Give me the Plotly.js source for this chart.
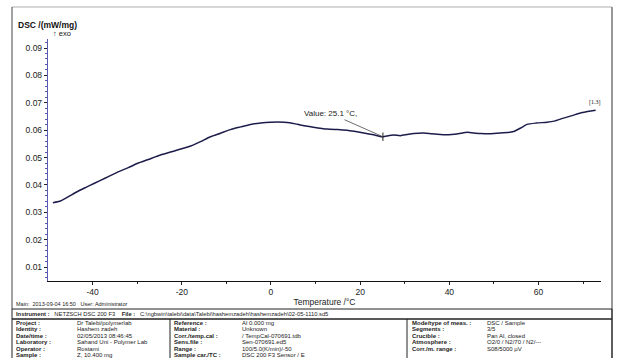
<!DOCTYPE html>
<html><head><meta charset="utf-8">
<script src="https://cdn.plot.ly/plotly-3.0.1.min.js"></script>
<style>html,body{margin:0;padding:0;background:#fff;}#chart{width:617px;height:358px;}</style>
</head><body><div id="chart"></div>
<script>
// Temperature (°C) and DSC signal (mW/mg)
const temperature = [-48.9,-47.2,-45.5,-43.5,-41.5,-39.7,-37,-34.5,-32,-30,-27.5,-24.8,-21.5,-18,-15.8,-13.6,-11.3,-9.1,-6.8,-4.6,-2.3,-0.1,1.5,2.9,4.2,5.5,6.6,9.5,12.6,15,17.1,19,20.8,23,24.9,26,27.5,29,30.5,32,34.3,36,37.3,39.5,42,44,46,47,49,51.5,53,54.4,56,57.4,59.5,61.9,63.5,65.6,67.5,69.4,71,72.8];
const dsc = [0.0335,0.0341,0.0356,0.0375,0.0391,0.0405,0.0426,0.0446,0.0463,0.0478,0.0493,0.0509,0.0525,0.0542,0.0558,0.0576,0.0589,0.0602,0.0612,0.0621,0.0626,0.0629,0.0630,0.0629,0.0627,0.0623,0.0619,0.0611,0.0604,0.0602,0.0600,0.0595,0.0590,0.0583,0.0576,0.0579,0.0582,0.0580,0.0584,0.0588,0.0590,0.0587,0.0585,0.0583,0.0587,0.0592,0.0589,0.0588,0.0587,0.0590,0.0591,0.0595,0.0608,0.0621,0.0626,0.0629,0.0633,0.0644,0.0653,0.0663,0.0668,0.0673];
const yTicks = [0.01,0.02,0.03,0.04,0.05,0.06,0.07,0.08,0.09];
const xTicks = [-40,-20,0,20,40,60];
const peakT = [25.1];
const peakV = [0.0576];
const col1Labels = ["Project :","Identity :","Date/time :","Laboratory :","Operator :","Sample :"];
const col1Values = ["Dr Talebi/polymerlab","Hashem zadeh","02/05/2013 08:46:45","Sahand Uni - Polymer Lab","Rostami","Z, 10.400 mg"];
const col2Labels = ["Reference :","Material :","Corr./temp.cal :","Sens.file :","Range :","Sample car./TC :"];
const col2Values = ["Al 0.000 mg","Unknown","/ TempCal-070691.tdb","Sen-070691.ed5","100/5.0(K/min)/-50","DSC 200 F3 Sensor / E"];
const col3Labels = ["Mode/type of meas. :","Segments :","Crucible :","Atmosphere :","Corr./m. range :"];
const col3Values = ["DSC / Sample","3/5","Pan Al, closed","O2/0 / N2/70 / N2/---","S08/5000 µV"];

// plot area in pixels: x 48..601, y 39..281
const L=48,R=601,T=39,B=281;
const px = x => (x-L)/(R-L);
const py = y => (B-y)/(B-T);
const F = "Liberation Sans, Arial, sans-serif";

const shapes = [
  {type:'line',xref:'paper',yref:'paper',x0:px(12),x1:px(612),y0:py(7),y1:py(7),line:{color:'#c8c8c8',width:1.5}},
  {type:'line',xref:'paper',yref:'paper',x0:px(12),x1:px(12),y0:py(7),y1:py(309),line:{color:'#444',width:1}},
  {type:'line',xref:'paper',yref:'paper',x0:px(612),x1:px(612),y0:py(7),y1:py(358),line:{color:'#999',width:2}},
  {type:'rect',xref:'paper',yref:'paper',x0:px(12),x1:px(612),y0:py(309),y1:py(319),line:{color:'#222',width:1}},
  {type:'rect',xref:'paper',yref:'paper',x0:px(12),x1:px(612),y0:py(319),y1:py(360),line:{color:'#222',width:1}},
  {type:'line',xref:'paper',yref:'paper',x0:px(170),x1:px(170),y0:py(319),y1:py(360),line:{color:'#222',width:1}},
  {type:'line',xref:'paper',yref:'paper',x0:px(407),x1:px(407),y0:py(319),y1:py(360),line:{color:'#222',width:1}}
];

const ann = [];
function txt(x,y,t,opts){
  ann.push(Object.assign({xref:'paper',yref:'paper',x:px(x),y:py(y),text:t,showarrow:false,
    xanchor:'left',yanchor:'middle',font:{family:F,size:6,color:'#222'}},opts||{}));
}
txt(16,25,"<b>DSC /(mW/mg)</b>",{font:{family:F,size:8.5,color:'#111'}});
txt(51,34,"↑ exo",{font:{family:F,size:7.5,color:'#111'}});
txt(14,304,"Main:  2013-09-04 16:50   User: Administrator",{font:{family:F,size:5.5,color:'#222'}});
txt(14,314,"<b>Instrument :</b>   NETZSCH DSC 200 F3    <b>File :</b>   C:\\ngbwin\\talebi\\data\\Talebi\\hashemzadeh\\hashemzadeh\\02-05-1110.sd5",{font:{family:F,size:5.8,color:'#222'}});
const rowY = [322.5,329,335.5,342,348.5,355];
col1Labels.forEach((s,i)=>{ txt(14,rowY[i],"<b>"+s+"</b>"); txt(75,rowY[i],col1Values[i]); });
col2Labels.forEach((s,i)=>{ txt(172,rowY[i],"<b>"+s+"</b>"); txt(240,rowY[i],col2Values[i]); });
col3Labels.forEach((s,i)=>{ txt(410,rowY[i],"<b>"+s+"</b>"); txt(485,rowY[i],col3Values[i]); });

ann.push({x:peakT[0],y:peakV[0],xref:'x',yref:'y',text:"Value: 25.1 °C,",showarrow:true,arrowhead:0,
  arrowwidth:0.8,arrowcolor:'#444',ax:-52,ay:-23,font:{family:F,size:8,color:'#222'}});
ann.push({x:temperature[temperature.length-1],y:dsc[dsc.length-1],xref:'x',yref:'y',text:"[1.3]",
  showarrow:false,yshift:8,xshift:-1,font:{family:"Liberation Serif, serif",size:6,color:'#111'}});

const data = [
  {x:temperature,y:dsc,type:'scatter',mode:'lines',line:{color:'#1c1c4a',width:1.5,shape:'spline',smoothing:0.6},hoverinfo:'skip'},
  {x:peakT,y:peakV,type:'scatter',mode:'markers',marker:{symbol:'line-ns',size:6,line:{color:'#222',width:1}},hoverinfo:'skip'}
];

const layout = {
  width:617,height:358,showlegend:false,
  paper_bgcolor:'#fff',plot_bgcolor:'#fff',
  margin:{l:L,r:617-R,t:T,b:358-B,pad:0},
  font:{family:F,size:8,color:'#222'},
  xaxis:{range:[-50,74],tickvals:xTicks,ticktext:xTicks.map(String),ticks:'outside',ticklen:3,tickwidth:1,tickcolor:'#222',
    showline:true,linecolor:'#111',linewidth:1.2,showgrid:false,zeroline:false,
    minor:{tickvals:[-30,-10,10,30,50,70],ticks:'outside',ticklen:2,tickcolor:'#222'},
    tickfont:{family:F,size:8.5,color:'#222'},
    title:{text:"Temperature /°C",font:{family:F,size:8.5,color:'#222'},standoff:0}},
  yaxis:{range:[0.0049,0.0933],tickvals:yTicks,ticktext:yTicks.map(v=>v.toFixed(2)),ticks:'outside',ticklen:3,tickwidth:1,tickcolor:'#222',
    showline:true,linecolor:'#5a5ab0',linewidth:1.2,showgrid:false,zeroline:false,
    minor:{dtick:0.002,ticks:'outside',ticklen:2,tickcolor:'#5a5ab0'},
    tickfont:{family:F,size:8.5,color:'#222'}},
  shapes:shapes,annotations:ann
};
Plotly.newPlot('chart',data,layout,{staticPlot:true,displayModeBar:false});
</script></body></html>
